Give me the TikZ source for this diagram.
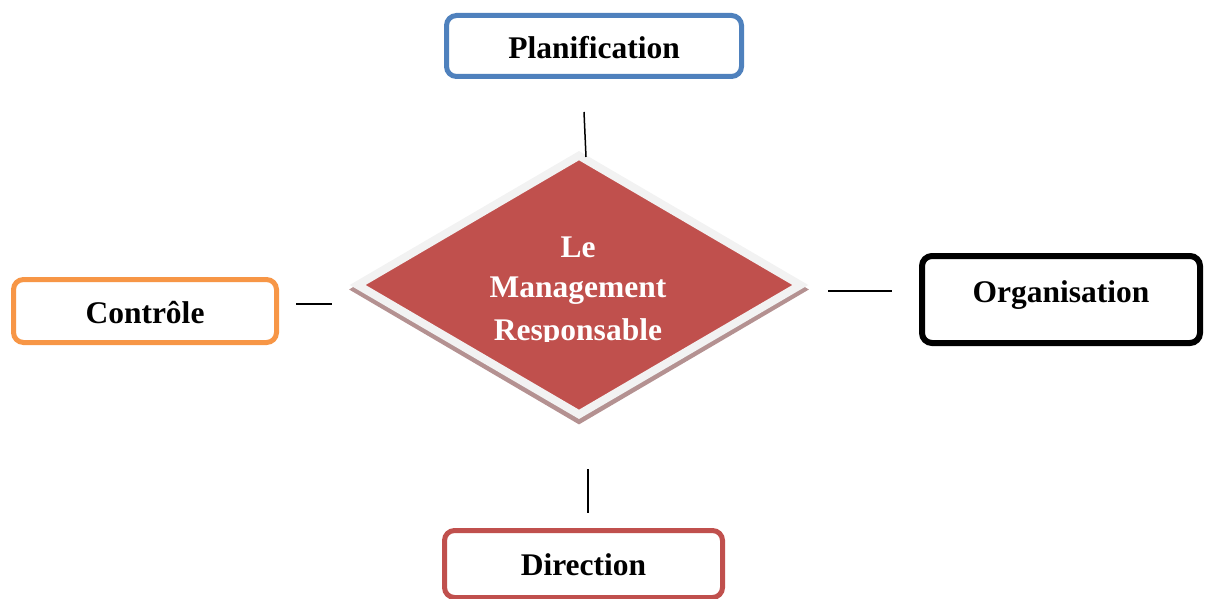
\documentclass[tikz,border=0pt]{standalone}
\usepackage{fontspec}
\setmainfont{Liberation Serif}
\usepackage{xcolor}
\usepackage{tikz}
\usetikzlibrary{shapes.geometric}
\definecolor{planblue}{HTML}{4F81BD}
\definecolor{ctrlorange}{HTML}{F79646}
\definecolor{dirred}{HTML}{C0504D}
\definecolor{rimgrey}{HTML}{F2F2F2}
\definecolor{shadowrose}{RGB}{180,145,145}
\tikzset{
    phase/.style={rectangle, rounded corners=10pt, draw, line width=5pt, fill=white, inner sep=0pt, text depth=0pt, font=\fontsize{31.5}{41.5}\selectfont\bfseries},
    core/.style={diamond, aspect=1.7, inner sep=0pt, minimum width=446pt, minimum height=262pt, fill=dirred, draw=rimgrey, line width=8pt},
    coreshadow/.style={diamond, aspect=1.7, inner sep=0pt, minimum width=460pt, minimum height=270pt, fill=shadowrose},
    coretext/.style={anchor=base, text=white, inner sep=0pt, font=\fontsize{31.5}{41.5}\selectfont\bfseries},
    link/.style={line width=1.5pt}
}

\begin{document}
\begin{tikzpicture}[x=1pt, y=-1pt]
    \useasboundingbox (0,0) rectangle (1205,599);
    % the four phases
    \node (plan) [phase, draw=planblue, minimum width=295pt, minimum height=61pt, text height=26pt] at (594,46) {Planification};
    \node (ctrl) [phase, draw=ctrlorange, minimum width=263pt, minimum height=63pt, text height=24pt] at (145,311) {Contrôle};
    \node (org) [phase, draw=black, line width=6pt, minimum width=278pt, minimum height=87pt, text height=21pt, text depth=16pt] at (1061,299.5) {Organisation};
    \node (dir) [phase, draw=dirred, minimum width=278pt, minimum height=67pt, text height=22pt] at (583.5,564) {Direction};

    % the centre
    \node (coreshade) [coreshadow] at (579,289.5) {};
    \node (core) [core] at (579,285) {};
    \node (le) [coretext] at (578,257) {Le};
    \node (mgmt) [coretext] at (578,297.5) {Management};
    \begin{scope}
        \clip (340,300) rectangle (820,341);
        \node (resp) [coretext] at (578,340) {Responsable};
    \end{scope}

    % short links
    \coordinate (plan-a) at (584,112);
    \coordinate (plan-b) at (586,157);
    \coordinate (ctrl-a) at (296,304);
    \coordinate (ctrl-b) at (332,304);
    \coordinate (org-a) at (828,291);
    \coordinate (org-b) at (892,291);
    \coordinate (dir-a) at (588,469);
    \coordinate (dir-b) at (588,513);
    \draw[link] (plan-a) -- (plan-b);
    \draw[link] (ctrl-a) -- (ctrl-b);
    \draw[link] (org-a) -- (org-b);
    \draw[link] (dir-a) -- (dir-b);
\end{tikzpicture}
\end{document}
